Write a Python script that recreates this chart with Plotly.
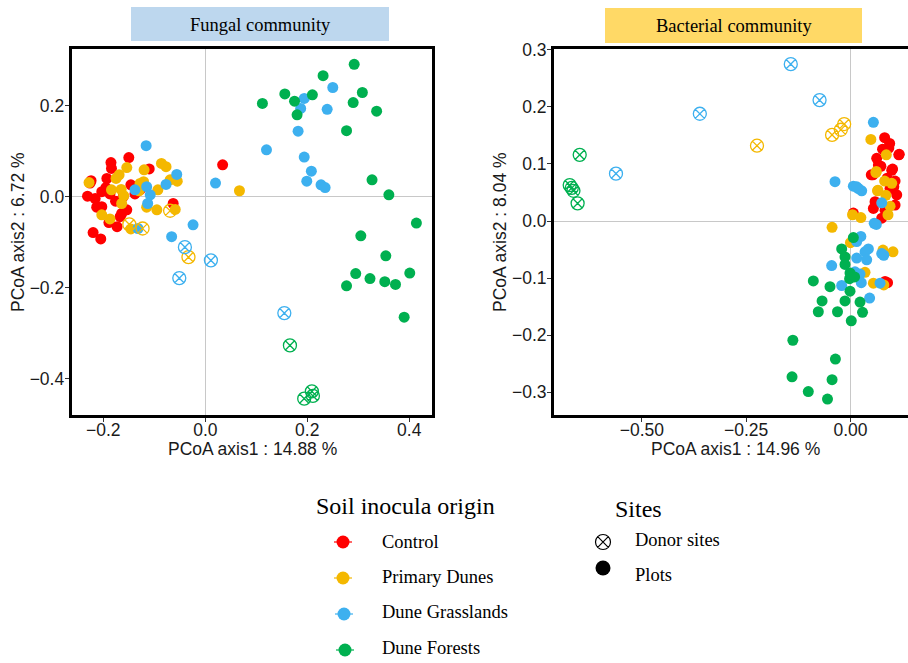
import plotly.graph_objects as go

# ---------------- data: Fungal community (left panel) ----------------
groups = ["Control", "Primary Dunes", "Dune Grasslands", "Dune Forests"]

fun_plot_x = {
    "Control": [-0.185, -0.184, -0.150, -0.110, -0.224, -0.193, -0.146, -0.128, -0.138, -0.231,
                -0.216, -0.203, -0.187, -0.161, -0.063, -0.213, -0.203, -0.164, -0.154, -0.220,
                -0.205, -0.173, -0.189, -0.167, 0.034, -0.176, -0.195, -0.226],
    "Primary Dunes": [-0.228, -0.169, -0.154, -0.086, -0.077, -0.120, -0.121, -0.055, -0.069, -0.184,
                      -0.165, -0.160, -0.128, -0.093, -0.164, -0.115, -0.095, -0.059, -0.203, -0.187,
                      -0.146, -0.130, 0.067, -0.175],
    "Dune Grasslands": [0.194, 0.250, 0.187, 0.239, 0.182, 0.120, 0.194, 0.208, 0.199, 0.227,
                        0.235, 0.020, -0.024, -0.066, -0.116, -0.056, -0.077, -0.115, -0.138, -0.108,
                        -0.113, -0.132],
    "Dune Forests": [0.112, 0.156, 0.175, 0.180, 0.210, 0.231, 0.292, 0.290, 0.308, 0.336,
                     0.277, 0.327, 0.360, 0.414, 0.305, 0.354, 0.295, 0.323, 0.352, 0.373,
                     0.401, 0.277, 0.390],
}
fun_plot_y = {
    "Control": [0.075, 0.062, 0.086, 0.061, 0.035, 0.040, 0.026, 0.015, 0.006, 0.001,
                -0.004, 0.011, 0.006, 0.000, -0.015, -0.023, -0.022, -0.037, -0.029, -0.079,
                -0.093, -0.066, -0.057, -0.044, 0.070, -0.010, 0.020, 0.030],
    "Primary Dunes": [0.031, 0.048, 0.064, 0.073, 0.066, 0.059, 0.033, 0.034, 0.037, 0.015,
                      0.016, 0.002, 0.029, 0.015, -0.015, -0.023, -0.029, -0.028, -0.040, -0.049,
                      -0.071, 0.013, 0.013, 0.040],
    "Dune Grasslands": [0.216, 0.240, 0.194, 0.192, 0.144, 0.103, 0.087, 0.056, 0.034, 0.026,
                        0.020, 0.030, -0.062, -0.088, 0.112, 0.049, 0.027, 0.022, 0.015, 0.004,
                        -0.015, -0.070],
    "Dune Forests": [0.205, 0.226, 0.210, 0.180, 0.224, 0.266, 0.291, 0.207, 0.229, 0.188,
                     0.145, 0.037, 0.004, -0.058, -0.086, -0.130, -0.169, -0.180, -0.187, -0.193,
                     -0.168, -0.196, -0.265],
}
fun_donor_x = {
    "Control": [],
    "Primary Dunes": [-0.069, -0.149, -0.123, -0.033],
    "Dune Grasslands": [-0.040, -0.051, 0.011, 0.155],
    "Dune Forests": [0.166, 0.209, 0.211, 0.194],
}
fun_donor_y = {
    "Control": [],
    "Primary Dunes": [-0.031, -0.061, -0.070, -0.133],
    "Dune Grasslands": [-0.111, -0.179, -0.140, -0.256],
    "Dune Forests": [-0.327, -0.428, -0.438, -0.444],
}

# ---------------- data: Bacterial community (right panel) ----------------
bac_plot_x = {
    "Control": [0.082, 0.094, 0.077, 0.117, 0.067, 0.101, 0.054, 0.107, 0.095, 0.111,
                0.059, 0.107, 0.055, 0.075, 0.007, 0.083, 0.089, 0.116, 0.073, 0.099,
                0.050, 0.083, 0.092, 0.104, 0.088, 0.063],
    "Primary Dunes": [0.049, 0.086, 0.062, 0.082, 0.066, 0.095, 0.090, 0.005, 0.025, -0.044,
                      0.000, 0.078, 0.102, 0.055, 0.061, 0.065, 0.099, 0.085, 0.035, 0.080],
    "Dune Grasslands": [0.055, -0.037, 0.007, 0.019, 0.027, 0.015, 0.057, 0.075, 0.025, 0.015,
                        0.043, 0.035, 0.015, 0.039, 0.075, -0.045, 0.011, 0.023, -0.021, 0.071,
                        0.026, 0.046, 0.062, 0.080],
    "Dune Forests": [0.007, -0.021, -0.013, -0.013, -0.001, -0.089, -0.049, -0.001, -0.068, -0.013,
                     0.023, -0.077, -0.031, 0.029, 0.002, -0.138, -0.036, -0.140, -0.044, -0.101,
                     -0.055, -0.002, 0.010],
}
bac_plot_y = {
    "Control": [0.146, 0.136, 0.126, 0.117, 0.098, 0.091, 0.081, 0.070, 0.057, 0.046,
                0.034, 0.028, 0.022, 0.005, 0.014, -0.106, -0.108, 0.116, 0.096, 0.089,
                0.081, 0.019, 0.128, 0.060, 0.075, 0.110],
    "Primary Dunes": [0.143, 0.116, 0.087, 0.070, 0.054, 0.026, 0.011, 0.011, 0.006, -0.011,
                      -0.038, -0.051, -0.054, -0.109, 0.085, 0.053, 0.066, 0.045, -0.090, -0.112],
    "Dune Grasslands": [0.173, 0.069, 0.061, 0.057, 0.053, 0.060, -0.004, 0.032, -0.027, -0.036,
                        -0.049, -0.054, -0.065, -0.068, -0.057, -0.078, -0.089, -0.093, -0.113, -0.109,
                        -0.108, -0.135, -0.006, -0.060],
    "Dune Forests": [-0.029, -0.049, -0.063, -0.076, -0.091, -0.105, -0.115, -0.123, -0.140, -0.140,
                     -0.142, -0.159, -0.159, -0.160, -0.175, -0.209, -0.242, -0.273, -0.278, -0.299,
                     -0.312, -0.101, -0.098],
}
bac_donor_x = {
    "Control": [],
    "Primary Dunes": [-0.224, -0.044, -0.023, -0.015],
    "Dune Grasslands": [-0.143, -0.074, -0.361, -0.562],
    "Dune Forests": [-0.649, -0.673, -0.664, -0.654, -0.668],
}
bac_donor_y = {
    "Control": [],
    "Primary Dunes": [0.132, 0.151, 0.160, 0.170],
    "Dune Grasslands": [0.275, 0.212, 0.188, 0.083],
    "Dune Forests": [0.116, 0.063, 0.053, 0.031, 0.058],
}

fun_xticks = [-0.2, 0.0, 0.2, 0.4]
fun_yticks = [-0.4, -0.2, 0.0, 0.2]
bac_xticks = [-0.50, -0.25, 0.00]
bac_yticks = [-0.3, -0.2, -0.1, 0.0, 0.1, 0.2, 0.3]

site_labels = ["Donor sites", "Plots"]

# ---------------- styles ----------------
colors = {
    "Control": "#FF0000",
    "Primary Dunes": "#F4B800",
    "Dune Grasslands": "#3DB0EF",
    "Dune Forests": "#00B050",
}
W, H = 908, 663
SANS = "Liberation Sans, Arial, sans-serif"
SERIF = "Liberation Serif, Times New Roman, serif"

fig = go.Figure()

panels = [
    ("x", "y", fun_plot_x, fun_plot_y, fun_donor_x, fun_donor_y),
    ("x2", "y2", bac_plot_x, bac_plot_y, bac_donor_x, bac_donor_y),
]
for xa, ya, px_, py_, dx_, dy_ in panels:
    for g in groups:
        fig.add_trace(go.Scatter(
            x=px_[g], y=py_[g], mode="markers", xaxis=xa, yaxis=ya, showlegend=False,
            marker=dict(symbol="circle", size=11, color=colors[g], line=dict(width=0)),
            hoverinfo="skip"))
    for g in groups:
        if dx_[g]:
            fig.add_trace(go.Scatter(
                x=dx_[g], y=dy_[g], mode="markers", xaxis=xa, yaxis=ya, showlegend=False,
                marker=dict(symbol="circle-x-open", size=13, color=colors[g],
                            line=dict(width=1.3, color=colors[g])),
                hoverinfo="skip"))

# ---------------- custom legend (pixel-space overlay axis) ----------------
leg_item_y = [542, 578, 614, 650]
leg_item_x = [343, 343, 344, 345]
for g, lx, ly in zip(groups, leg_item_x, leg_item_y):
    fig.add_trace(go.Scatter(
        x=[lx - 9, lx + 9], y=[ly, ly], mode="lines", xaxis="x3", yaxis="y3",
        showlegend=False, line=dict(color=colors[g], width=1.2), hoverinfo="skip"))
    fig.add_trace(go.Scatter(
        x=[lx], y=[ly], mode="markers", xaxis="x3", yaxis="y3", showlegend=False,
        marker=dict(symbol="circle", size=13, color=colors[g]), hoverinfo="skip"))
fig.add_trace(go.Scatter(
    x=[603], y=[542], mode="markers", xaxis="x3", yaxis="y3", showlegend=False,
    marker=dict(symbol="circle-x-open", size=15, color="black", line=dict(width=1.2, color="black")),
    hoverinfo="skip"))
fig.add_trace(go.Scatter(
    x=[603], y=[568], mode="markers", xaxis="x3", yaxis="y3", showlegend=False,
    marker=dict(symbol="circle", size=15, color="black"), hoverinfo="skip"))

def px2x(p):
    return p / W

def py2y(p):
    return 1 - p / H

axis_common = dict(
    showline=True, linecolor="black", linewidth=3, ticks="outside", ticklen=4,
    tickcolor="#333333", tickwidth=1, showgrid=False, zeroline=True,
    zerolinecolor="#C8C8C8", zerolinewidth=1, automargin=False,
    tickfont=dict(family=SANS, size=17.5, color="#1a1a1a"),
)

fig.update_layout(
    width=W, height=H, margin=dict(l=0, r=0, t=0, b=0, autoexpand=False),
    paper_bgcolor="white", plot_bgcolor="rgba(0,0,0,0)", showlegend=False,
    xaxis=dict(domain=[px2x(71.7), px2x(431.7)], range=[-0.262, 0.444],
               tickvals=fun_xticks, tickformat=".1f", mirror=True, anchor="y",
               ticklabelstandoff=-7, **axis_common),
    yaxis=dict(domain=[py2y(415), py2y(49.3)], range=[-0.480, 0.324],
               tickvals=fun_yticks, tickformat=".1f", mirror=True, anchor="x",
               ticklabelstandoff=-3, **axis_common),
    xaxis2=dict(domain=[px2x(554), 1.0], range=[-0.7106, 0.138],
                tickvals=bac_xticks, tickformat=".2f", mirror=True, anchor="y2",
                ticklabelstandoff=-7, **axis_common),
    yaxis2=dict(domain=[py2y(415), py2y(49.3)], range=[-0.340, 0.301],
                tickvals=bac_yticks, tickformat=".1f", mirror=False, anchor="x2",
                ticklabelstandoff=-3, **axis_common),
    xaxis3=dict(domain=[0, 1], range=[0, W], visible=False, fixedrange=True, anchor="y3",
                showgrid=False, zeroline=False, automargin=False),
    yaxis3=dict(domain=[0, 1], range=[H, 0], visible=False, fixedrange=True, anchor="x3",
                showgrid=False, zeroline=False, automargin=False),
)

# title boxes
fig.add_shape(type="rect", xref="paper", yref="paper",
              x0=px2x(131), x1=px2x(389), y0=py2y(41), y1=py2y(7),
              fillcolor="#BDD7EE", line=dict(width=0), layer="below")
fig.add_shape(type="rect", xref="paper", yref="paper",
              x0=px2x(605), x1=px2x(862), y0=py2y(43), y1=py2y(8),
              fillcolor="#FFD966", line=dict(width=0), layer="below")

annots = [
    dict(text="Fungal community", x=px2x(260), y=py2y(25), font=dict(family=SERIF, size=18.5, color="black"),
         xanchor="center", yanchor="middle"),
    dict(text="Bacterial community", x=px2x(733.5), y=py2y(26.5), font=dict(family=SERIF, size=18.5, color="black"),
         xanchor="center", yanchor="middle"),
    dict(text="PCoA axis1 : 14.88 %", x=px2x(252), y=py2y(449), font=dict(family=SANS, size=17.5, color="#1a1a1a"),
         xanchor="center", yanchor="middle"),
    dict(text="PCoA axis1 : 14.96 %", x=px2x(735), y=py2y(449), font=dict(family=SANS, size=17.5, color="#1a1a1a"),
         xanchor="center", yanchor="middle"),
    dict(text="PCoA axis2 : 6.72 %", x=px2x(18), y=py2y(232), textangle=-90,
         font=dict(family=SANS, size=17.5, color="#1a1a1a"), xanchor="center", yanchor="middle"),
    dict(text="PCoA axis2 : 8.04 %", x=px2x(500), y=py2y(232), textangle=-90,
         font=dict(family=SANS, size=17.5, color="#1a1a1a"), xanchor="center", yanchor="middle"),
    dict(text="Soil inocula origin", x=px2x(314), y=py2y(506), font=dict(family=SERIF, size=24, color="black"),
         xanchor="left", yanchor="middle"),
    dict(text="Sites", x=px2x(613), y=py2y(509), font=dict(family=SERIF, size=24, color="black"),
         xanchor="left", yanchor="middle"),
]
for g, ly in zip(groups, [542, 577, 612, 648]):
    annots.append(dict(text=g, x=px2x(380), y=py2y(ly), font=dict(family=SERIF, size=18.5, color="black"),
                       xanchor="left", yanchor="middle"))
for s, ly in zip(site_labels, [540, 575]):
    annots.append(dict(text=s, x=px2x(633), y=py2y(ly), font=dict(family=SERIF, size=18.5, color="black"),
                       xanchor="left", yanchor="middle"))
for a in annots:
    a.update(xref="paper", yref="paper", showarrow=False)
fig.update_layout(annotations=annots)

fig.write_html("out.html")
